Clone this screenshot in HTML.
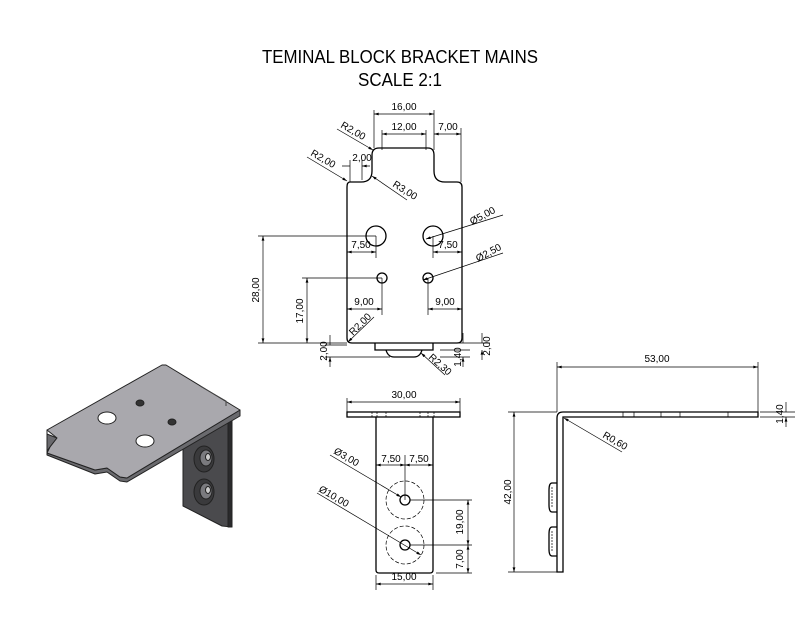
<!DOCTYPE html>
<html><head><meta charset="utf-8"><style>
html,body{margin:0;padding:0;background:#fff;}
svg{display:block;font-family:"Liberation Sans",sans-serif;}
</style></head><body>
<svg width="800" height="640" viewBox="0 0 800 640" xmlns="http://www.w3.org/2000/svg">
<defs>
<marker id="a" viewBox="0 0 10 6" refX="10" refY="3" markerWidth="7" markerHeight="4" orient="auto-start-reverse"><path d="M0,0L10,3L0,6z" fill="#000"/></marker>
</defs>
<text x="400" y="63" font-size="18" text-anchor="middle" textLength="276" lengthAdjust="spacingAndGlyphs">TEMINAL BLOCK BRACKET MAINS</text>
<text x="400" y="86" font-size="18" text-anchor="middle" textLength="84" lengthAdjust="spacingAndGlyphs">SCALE 2:1</text>

<!-- TOP VIEW -->
<g fill="none" stroke="#000" stroke-width="1.3">
<path d="M350,182 L361,182 Q372,182 372,171 L372,155 Q372,148 379,148 L428,148 Q434,148 434,155 L434,171 Q434,182 445,182 L457,182 Q462,182 462,187 L462,338 Q462,343 457,343 L352,343 Q347,343 347,338 L347,187 Q347,182 350,182 Z"/>
<path d="M375,343 L375,350 L433,350 L433,343"/>
<path d="M386,350 Q388,357 394,357 L414,357 Q420,357 422,350"/>
<circle cx="376" cy="236" r="10"/><circle cx="433" cy="236" r="10"/>
<circle cx="382" cy="278" r="5"/><circle cx="428" cy="278" r="5"/>
</g>
<g fill="none" stroke="#000" stroke-width="0.7">
<path d="M374,110V148M434,110V150M461,128V182M382,130V150M426,130V150"/>
<path d="M258,236H376M302,278H382M258,343H347M376,236V258M433,236V258M382,278V315M428,278V315M347,245V320M462,245V320"/>
<path d="M350,160V182M362,160V180"/>
<path d="M325,345H347M325,357H390M440,343H490M440,350H470M440,357H470"/>
<path d="M374,114H434" marker-start="url(#a)" marker-end="url(#a)"/>
<path d="M382,134H426" marker-start="url(#a)" marker-end="url(#a)"/>
<path d="M434,134H461" marker-start="url(#a)" marker-end="url(#a)"/>
<path d="M263,236V343" marker-start="url(#a)" marker-end="url(#a)"/>
<path d="M307,278V343" marker-start="url(#a)" marker-end="url(#a)"/>
<path d="M347,252H376" marker-start="url(#a)" marker-end="url(#a)"/>
<path d="M433,252H462" marker-start="url(#a)" marker-end="url(#a)"/>
<path d="M347,309H382" marker-start="url(#a)" marker-end="url(#a)"/>
<path d="M428,309H462" marker-start="url(#a)" marker-end="url(#a)"/>
<path d="M342,166H350M370,166H362" marker-end="url(#a)"/>
<path d="M330,335V345M330,367V357" marker-end="url(#a)"/>
<path d="M463,333V343M463,367V357" marker-end="url(#a)"/>
<path d="M482,333V343M482,360V350" marker-end="url(#a)"/>
<path d="M337,129L373,150" marker-end="url(#a)"/>
<path d="M307,157L347,181" marker-end="url(#a)"/>
<path d="M407,200L372,176" marker-end="url(#a)"/>
<path d="M503,215L426,239" marker-end="url(#a)"/>
<path d="M503,253L423,280" marker-end="url(#a)"/>
<path d="M374,317L348,342" marker-end="url(#a)"/>
<path d="M445,375L421,353" marker-end="url(#a)"/>
</g>
<g font-size="10" fill="#000">
<text x="404" y="110" text-anchor="middle">16,00</text>
<text x="404" y="130" text-anchor="middle">12,00</text>
<text x="448" y="130" text-anchor="middle">7,00</text>
<text x="362" y="161" text-anchor="middle">2,00</text>
<text x="361" y="248" text-anchor="middle">7,50</text>
<text x="448" y="248" text-anchor="middle">7,50</text>
<text x="364" y="305" text-anchor="middle">9,00</text>
<text x="445" y="305" text-anchor="middle">9,00</text>
<text transform="translate(259,290) rotate(-90)" text-anchor="middle">28,00</text>
<text transform="translate(303,311) rotate(-90)" text-anchor="middle">17,00</text>
<text transform="translate(327,351) rotate(-90)" text-anchor="middle">2,00</text>
<text transform="translate(461,357) rotate(-90)" text-anchor="middle">1,40</text>
<text transform="translate(490,346) rotate(-90)" text-anchor="middle">2,00</text>
<text transform="translate(340,127) rotate(30)">R2,00</text>
<text transform="translate(310,155) rotate(30)">R2,00</text>
<text transform="translate(392,186) rotate(32)">R3,00</text>
<text transform="translate(472,225) rotate(-28)">Ø5,00</text>
<text transform="translate(478,262) rotate(-28)">Ø2,50</text>
<text transform="translate(353,336) rotate(-45)">R2,00</text>
<text transform="translate(428,358) rotate(42)">R2,30</text>
</g>

<!-- FRONT VIEW -->
<g fill="none" stroke="#000" stroke-width="1.3">
<rect x="347" y="412" width="113" height="5"/>
<path d="M376,417V570Q376,573 379,573H430Q433,573 433,570V417"/>
<circle cx="405" cy="500" r="5"/><circle cx="405" cy="545" r="5"/>
</g>
<g fill="none" stroke="#000" stroke-width="0.7">
<circle cx="405" cy="500" r="19" stroke-dasharray="4,2"/><circle cx="405" cy="545" r="19" stroke-dasharray="4,2"/>
<path d="M372,412V417M377,412V417M386,412V417M420,412V417M428,412V417M434,412V417" stroke-dasharray="2,1"/>
<path d="M347,398V412M460,398V412M405,455V500M376,460V470M433,460V470M376,575V590M433,575V590M410,500H472M410,545H472M436,573H472"/>
<path d="M347,402H460" marker-start="url(#a)" marker-end="url(#a)"/>
<path d="M376,465H405" marker-start="url(#a)" marker-end="url(#a)"/>
<path d="M405,465H433" marker-start="url(#a)" marker-end="url(#a)"/>
<path d="M376,584H433" marker-start="url(#a)" marker-end="url(#a)"/>
<path d="M468,500V545" marker-start="url(#a)" marker-end="url(#a)"/>
<path d="M468,545V573" marker-start="url(#a)" marker-end="url(#a)"/>
<path d="M330,455L401,497" marker-end="url(#a)"/>
<path d="M317,493L421,555" marker-end="url(#a)"/>
</g>
<g font-size="10" fill="#000">
<text x="404" y="398" text-anchor="middle">30,00</text>
<text x="391" y="462" text-anchor="middle">7,50</text>
<text x="419" y="462" text-anchor="middle">7,50</text>
<text x="404" y="580" text-anchor="middle">15,00</text>
<text transform="translate(463,522) rotate(-90)" text-anchor="middle">19,00</text>
<text transform="translate(463,559) rotate(-90)" text-anchor="middle">7,00</text>
<text transform="translate(333,453) rotate(30)">Ø3,00</text>
<text transform="translate(318,491) rotate(30)">Ø10,00</text>
</g>

<!-- SIDE VIEW -->
<g fill="none" stroke="#000" stroke-width="1.3">
<path d="M563,412H758V417H563V572H557V418Q557,412 563,412Z"/>
<path d="M557,483H552Q549,483 549,490V505Q549,512 552,512H557"/>
<path d="M557,527H552Q549,527 549,534V549Q549,556 552,556H557"/>
</g>
<g fill="none" stroke="#000" stroke-width="0.7">
<path d="M623,412V417M634,412V417M661,412V417M680,412V417M728,412V417"/>
<path d="M552,487V508M552,531V552" stroke-dasharray="2,1"/>
<path d="M557,362V412M758,362V417M508,412H557M508,572H557M760,412H795M760,417H795"/>
<path d="M557,367H758" marker-start="url(#a)" marker-end="url(#a)"/>
<path d="M514,412V572" marker-start="url(#a)" marker-end="url(#a)"/>
<path d="M786,402V412M786,427V417" marker-end="url(#a)"/>
<path d="M622,452L564,418" marker-end="url(#a)"/>
</g>
<g font-size="10" fill="#000">
<text x="657" y="362" text-anchor="middle">53,00</text>
<text transform="translate(511,492) rotate(-90)" text-anchor="middle">42,00</text>
<text transform="translate(783,414) rotate(-90)" text-anchor="middle">1,40</text>
<text transform="translate(602,437) rotate(30)">R0,60</text>
</g>

<!-- 3D VIEW -->
<g stroke="#222" stroke-width="1" stroke-linejoin="round">
<!-- vertical plate -->
<path d="M183,447L228,421L232,421L232,527L222,526L183,506Z" fill="#4a4a4d"/>
<path d="M228,421L232,421L232,527L228,527Z" fill="#2a2a2c"/>
<ellipse cx="204" cy="459" rx="10" ry="13" fill="#3a3a3c"/><ellipse cx="206" cy="458" rx="6" ry="8" fill="#7a7a7e"/><ellipse cx="208" cy="457" rx="2.5" ry="3.5" fill="#ccc"/>
<ellipse cx="204" cy="492" rx="10" ry="13" fill="#3a3a3c"/><ellipse cx="206" cy="491" rx="6" ry="8" fill="#7a7a7e"/><ellipse cx="208" cy="490" rx="2.5" ry="3.5" fill="#ccc"/>
<!-- plate thickness -->
<path d="M47,430L47,434L57,438L50,447L47,451L47,455L95,474L107,472L120,481L127,482L240,416L240,410L127,478L120,477L107,468L95,470L47,453Z" fill="#6a6a6e"/>
<!-- plate top -->
<path d="M47,430L162,365L166,365L240,410L127,478L120,477L107,468L95,470L47,453L50,447L57,438Z" fill="#a9a8ad"/>
<ellipse cx="107" cy="418" rx="9" ry="6" fill="#fff"/>
<ellipse cx="145" cy="441" rx="9" ry="6" fill="#fff"/>
<ellipse cx="140" cy="403" rx="4" ry="3" fill="#333"/>
<ellipse cx="172" cy="422" rx="4" ry="3" fill="#333"/>
<path d="M200,386L226,401L226,406" fill="none" stroke="#444"/>
</g>
</svg>
</body></html>
